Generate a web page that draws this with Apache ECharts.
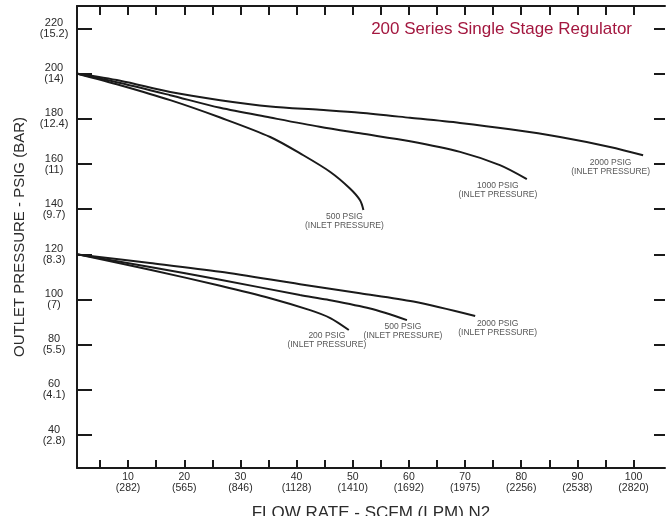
<!DOCTYPE html>
<html>
<head>
<meta charset="utf-8">
<script src="https://cdn.jsdelivr.net/npm/echarts@6/dist/echarts.min.js"></script>
<style>
html,body{margin:0;padding:0;background:#fff;}
#chart{width:671px;height:516px;}
</style>
</head>
<body>
<div id="chart"></div>
<script>
// ---- data ----
const xMinorTicks = [5,10,15,20,25,30,35,40,45,50,55,60,65,70,75,80,85,90,95,100];
const xMajorTicks = [10,20,30,40,50,60,70,80,90,100];
const xLpmLabels = ['282','565','846','1128','1410','1692','1975','2256','2538','2820'];
const yTicks = [40,60,80,100,120,140,160,180,200,220];
const yBarLabels = ['2.8','4.1','5.5','7','8.3','9.7','11','12.4','14','15.2'];

const top500  = [[1,200],[8.6,194.9],[17.5,188.3],[26.4,180.6],[35.3,172],[41.2,163.9],[46,156.5],[49.5,149.2],[51.3,144],[51.9,139.7]];
const top1000 = [[1,200],[8.6,195.9],[17.5,190.5],[26.4,184.9],[35.3,180.6],[44.1,176.5],[51.3,173.6],[60.2,170.1],[69.1,165.4],[76.2,159.5],[81,153.3]];
const top2000 = [[1,200],[8.6,196.9],[17.5,191.9],[26.4,188.3],[35.3,185.5],[44.1,184.0],[51.3,182.7],[60.2,180.5],[69.1,178.2],[78,175.4],[86.9,172],[95.8,167.6],[101.7,163.9]];
const low200  = [[1,120],[13.9,113.2],[26.4,106.1],[35.3,100.6],[42.4,95.3],[46,91.8],[49.3,86.5]];
const low500  = [[1,120],[13.9,114.4],[26.4,108.8],[40.6,102.0],[45.4,100.0],[53.1,96.0],[59.65,90.9]];
const low2000 = [[1,120],[13.9,116.2],[26.4,112.3],[40.6,106.8],[51.3,102.8],[60.8,99.1],[71.8,92.7]];

const curveNames = ['500 PSIG','1000 PSIG','2000 PSIG','200 PSIG','500 PSIG','2000 PSIG'];
const curves = [top500, top1000, top2000, low200, low500, low2000];

// ---- styles ----
const ink = '#1a1a1a';
const txt = '#2b2b2b';
const font = 'Liberation Sans, Arial, Helvetica, sans-serif';
const labelOffsets = [[-19,11],[-29,10.5],[-32.5,11.5],[-22,10],[-4,10.7],[22.5,12.3]];

const chart = echarts.init(document.getElementById('chart'), null, {renderer:'canvas'});

const lineSeries = curves.map((d, i) => ({
  type: 'line',
  data: d,
  xAxisIndex: 0,
  yAxisIndex: 0,
  showSymbol: false,
  smooth: 0.3,
  silent: true,
  lineStyle: { color: ink, width: 2 },
  z: 3
}));

const labelSeries = {
  type: 'scatter',
  xAxisIndex: 0,
  yAxisIndex: 0,
  silent: true,
  symbolSize: 1,
  itemStyle: { color: 'transparent' },
  z: 4,
  data: curves.map((d, i) => ({
    value: d[d.length - 1],
    name: curveNames[i],
    label: {
      show: true,
      position: 'inside',
      offset: labelOffsets[i],
      align: 'center',
      verticalAlign: 'middle',
      formatter: curveNames[i] + '\n(INLET PRESSURE)',
      fontFamily: font,
      fontSize: 8.5,
      lineHeight: 9,
      color: txt
    }
  }))
};

const option = {
  animation: false,
  backgroundColor: '#fff',
  title: {
    text: '200 Series Single Stage Regulator',
    right: 39,
    top: 21,
    padding: 0,
    textStyle: { fontFamily: font, fontSize: 17, fontWeight: 'normal', color: '#a3173f' }
  },
  grid: { left: 77, right: 6, top: 6, bottom: 48, containLabel: false, outerBoundsMode: 'none' },
  xAxis: [
    {
      type: 'value', position: 'bottom', min: 0.9, max: 105.6,
      name: 'FLOW RATE - SCFM (LPM) N2',
      nameLocation: 'middle', nameGap: 37,
      nameTextStyle: { fontFamily: font, fontSize: 17, color: txt },
      axisLine: { show: true, onZero: false, lineStyle: { color: ink, width: 2 } },
      axisTick: { show: true, inside: true, length: 8, customValues: xMinorTicks, lineStyle: { color: ink, width: 2 } },
      axisLabel: {
        show: true, customValues: xMajorTicks, margin: 4,
        fontFamily: font, fontSize: 10.5, lineHeight: 11, color: txt,
        formatter: v => { const k = xMajorTicks.indexOf(Math.round(v)); return k < 0 ? '' : v + '\n(' + xLpmLabels[k] + ')'; }
      },
      splitLine: { show: false }
    },
    {
      type: 'value', position: 'top', min: 0.9, max: 105.6,
      axisLine: { show: true, onZero: false, lineStyle: { color: ink, width: 2 } },
      axisTick: { show: true, inside: true, length: 9, customValues: xMinorTicks, lineStyle: { color: ink, width: 2 } },
      axisLabel: { show: false },
      splitLine: { show: false }
    }
  ],
  yAxis: [
    {
      type: 'value', position: 'left', min: 25.4, max: 230,
      name: 'OUTLET PRESSURE - PSIG (BAR)',
      nameLocation: 'middle', nameGap: 50,
      nameTextStyle: { fontFamily: font, fontSize: 15, color: txt },
      axisLine: { show: true, onZero: false, lineStyle: { color: ink, width: 2 } },
      axisTick: { show: true, inside: true, length: 15, customValues: yTicks, lineStyle: { color: ink, width: 2 } },
      axisLabel: {
        show: true, customValues: yTicks, margin: 23, align: 'center',
        fontFamily: font, fontSize: 11, lineHeight: 11, color: txt,
        formatter: v => { const k = yTicks.indexOf(Math.round(v)); return k < 0 ? '' : v + '\n(' + yBarLabels[k] + ')'; }
      },
      splitLine: { show: false }
    },
    {
      type: 'value', position: 'right', min: 25.4, max: 230,
      axisLine: { show: false, onZero: false },
      axisTick: { show: true, inside: true, length: 11, customValues: yTicks, lineStyle: { color: ink, width: 2 } },
      axisLabel: { show: false },
      splitLine: { show: false }
    }
  ],
  series: lineSeries.concat([labelSeries])
};

chart.setOption(option);
</script>
</body>
</html>
